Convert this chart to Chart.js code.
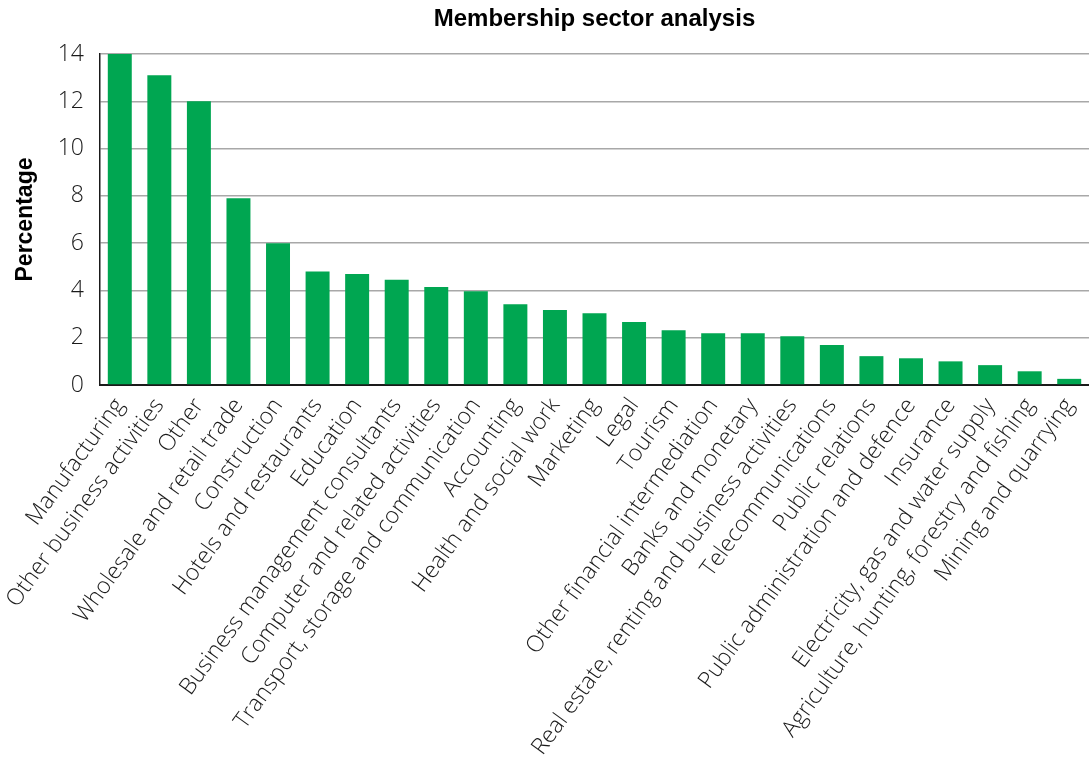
<!DOCTYPE html>
<html>
<head>
<meta charset="utf-8">
<script src="https://cdn.jsdelivr.net/npm/chart.js@4.4.1/dist/chart.umd.min.js"></script>
<style>
  html, body { margin: 0; padding: 0; background: #ffffff; }
  #wrap { width: 1089px; height: 760px; }
</style>
</head>
<body>
<div id="wrap"><canvas id="c" width="1089" height="760"></canvas></div>
<script>
const chartTitle = "Membership sector analysis";
const yAxisTitle = "Percentage";
const categories = [
  "Manufacturing",
  "Other business activities",
  "Other",
  "Wholesale and retail trade",
  "Construction",
  "Hotels and restaurants",
  "Education",
  "Business management consultants",
  "Computer and related activities",
  "Transport, storage and communication",
  "Accounting",
  "Health and social work",
  "Marketing",
  "Legal",
  "Tourism",
  "Other financial intermediation",
  "Banks and monetary",
  "Real estate, renting and business activities",
  "Telecommunications",
  "Public relations",
  "Public administration and defence",
  "Insurance",
  "Electricity, gas and water supply",
  "Agriculture, hunting, forestry and fishing",
  "Mining and quarrying"
];
const percentages = [
  14.0, 13.1, 12.0, 7.9, 6.0, 4.8, 4.7, 4.45, 4.15, 3.97,
  3.42, 3.17, 3.04, 2.66, 2.32, 2.19, 2.19, 2.06, 1.69, 1.22,
  1.13, 1.0, 0.84, 0.58, 0.26
];
const yTicks = [0, 2, 4, 6, 8, 10, 12, 14];

const labelFont = "'Open Sans', 'Liberation Sans', sans-serif";
const boldFont = "'Liberation Sans', Arial, sans-serif";

const centerTitle = {
  id: 'centerTitle',
  afterLayout(chart) {
    const t = chart.titleBlock;
    if (t) {
      t.left = chart.chartArea.left;
      t.right = chart.chartArea.right;
    }
  }
};

new Chart(document.getElementById('c'), {
  type: 'bar',
  data: {
    labels: categories,
    datasets: [{
      label: yAxisTitle,
      data: percentages,
      backgroundColor: '#00A651',
      borderWidth: 0,
      categoryPercentage: 1.0,
      barPercentage: 0.606
    }]
  },
  options: {
    responsive: false,
    devicePixelRatio: 1,
    animation: false,
    layout: { padding: 0 },
    plugins: {
      legend: { display: false },
      tooltip: { enabled: false },
      title: {
        display: true,
        text: chartTitle,
        color: '#000',
        font: { family: boldFont, size: 24, weight: 'bold', lineHeight: 1.2 },
        padding: { top: 5, bottom: 20.2 }
      }
    },
    scales: {
      x: {
        grid: { display: false, drawTicks: false },
        border: { display: true, color: '#1a1a1a', width: 2 },
        ticks: {
          autoSkip: false,
          minRotation: 54,
          maxRotation: 54,
          padding: 8,
          color: '#1a1a1a',
          font: { family: labelFont, size: 23, weight: 300 }
        },
        afterFit(scale) {
          scale.height = 375;
          scale.paddingLeft = 0;
          scale.paddingRight = 0;
        }
      },
      y: {
        min: 0,
        max: 14,
        afterBuildTicks(scale) {
          scale.ticks = yTicks.map(v => ({ value: v }));
        },
        grid: { color: '#a8a8a8', lineWidth: 1.5, drawTicks: false },
        border: { display: true, color: '#1a1a1a', width: 1.5 },
        ticks: {
          padding: 16,
          color: '#1a1a1a',
          font: { family: labelFont, size: 23, weight: 300 }
        },
        title: {
          display: true,
          text: yAxisTitle,
          color: '#000',
          font: { family: boldFont, size: 23, weight: 'bold', lineHeight: 1.2 },
          padding: { top: 12, bottom: 0 }
        },
        afterFit(scale) {
          scale.width = 100;
        }
      }
    }
  },
  plugins: [centerTitle]
});
</script>
</body>
</html>
